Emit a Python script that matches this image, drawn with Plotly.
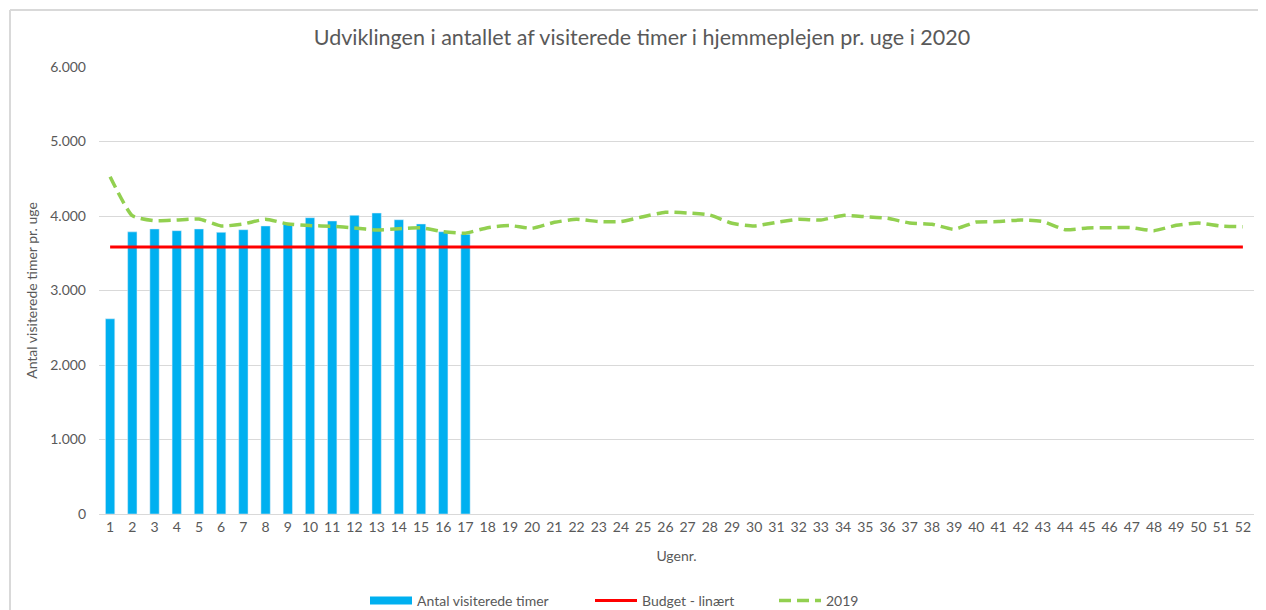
import plotly.graph_objects as go

weeks = list(range(1, 53))
bar_weeks = list(range(1, 18))
visiterede_2020 = [2620, 3787, 3826, 3803, 3826, 3781, 3816, 3866, 3906, 3977,
                   3933, 4009, 4040, 3950, 3893, 3789, 3754]
budget = [3584] * 52
series_2019 = [4528, 4004, 3937, 3946, 3960, 3866, 3893, 3956, 3893, 3871,
               3862, 3839, 3812, 3830, 3843, 3789, 3770, 3843, 3871, 3835,
               3915, 3956, 3925, 3925, 3991, 4050, 4040, 4013, 3902, 3866,
               3915, 3956, 3946, 4008, 3991, 3969, 3906, 3889, 3822, 3919,
               3925, 3946, 3925, 3816, 3839, 3843, 3843, 3803, 3875, 3906,
               3866, 3857]

grey = "#595959"
font_family = "Lato, 'Open Sans', sans-serif"
bar_color = "#00B0F0"

fig = go.Figure()
fig.add_trace(go.Bar(x=bar_weeks, y=visiterede_2020, name="Antal visiterede timer",
                     marker_color=bar_color, width=0.42, showlegend=False,
                     legendgroup="bar"))
# legend entry for the bars (wide rectangle like the original)
fig.add_trace(go.Scatter(x=[None], y=[None], name="Antal visiterede timer", mode="lines",
                         line=dict(color=bar_color, width=8), legendgroup="bar",
                         legend="legend"))
fig.add_trace(go.Scatter(x=weeks, y=budget, name="Budget - linært", mode="lines",
                         line=dict(color="#FF0000", width=3), legend="legend2"))
fig.add_trace(go.Scatter(x=weeks, y=series_2019, name="2019", mode="lines",
                         line=dict(color="#92D050", width=3.5, dash="12px,6px",
                                   shape="spline", smoothing=0.5),
                         legend="legend3"))

OFF = 8  # page body margin
W, H = 1266, 610
L = 99 - OFF
T = 67 - OFF
B = H - (514 - OFF)
R = W - (1254 - OFF)
pw, ph = W - L - R, H - T - B
bx = (10 - OFF - L) / pw
by = (H - B - (10 - OFF)) / ph


def leg(px):
    return dict(orientation="h", x=(px - OFF) / W, xanchor="left", xref="container",
                y=1 - (601 - OFF) / H, yref="container", yanchor="middle",
                itemwidth=42,
                font=dict(size=14, color=grey), bgcolor="rgba(0,0,0,0)")


fig.update_layout(
    width=W, height=H,
    margin=dict(l=L, r=R, t=T, b=B, autoexpand=False),
    paper_bgcolor="white", plot_bgcolor="white",
    separators=",.",
    font=dict(family=font_family, color=grey, size=14),
    title=dict(text="Udviklingen i antallet af visiterede timer i hjemmeplejen pr. uge i 2020",
               x=(642 - OFF) / W, xanchor="center", y=1 - (37 - OFF) / H, yanchor="middle",
               font=dict(size=21.5, color=grey)),
    showlegend=True,
    legend=leg(365),
    legend2=leg(590),
    legend3=leg(774),
    xaxis=dict(range=[0.5, 52.5], tickmode="array", tickvals=weeks,
               ticktext=[str(w) for w in weeks], showgrid=False, zeroline=False,
               showline=True, linecolor="#d9d9d9", linewidth=1, ticks="",
               automargin=False, tickfont=dict(size=14, color=grey),
               title=dict(text="Ugenr.", font=dict(size=14, color=grey), standoff=17)),
    yaxis=dict(range=[0, 6000], tickvals=[0, 1000, 2000, 3000, 4000, 5000, 6000],
               tickformat=",d", showgrid=True, gridcolor="#d9d9d9", gridwidth=1,
               zeroline=False, ticks="", automargin=False,
               tickfont=dict(size=14, color=grey), ticklabelstandoff=12,
               title=dict(text="Antal visiterede timer pr. uge",
                          font=dict(size=14, color=grey), standoff=9)),
    shapes=[
        dict(type="line", xref="paper", yref="paper", x0=bx, x1=1.2, y0=by, y1=by,
             line=dict(color="#d9d9d9", width=2)),
        dict(type="line", xref="paper", yref="paper", x0=bx, x1=bx, y0=by, y1=-0.5,
             line=dict(color="#d9d9d9", width=2)),
    ],
)

fig.write_html("out.html")
